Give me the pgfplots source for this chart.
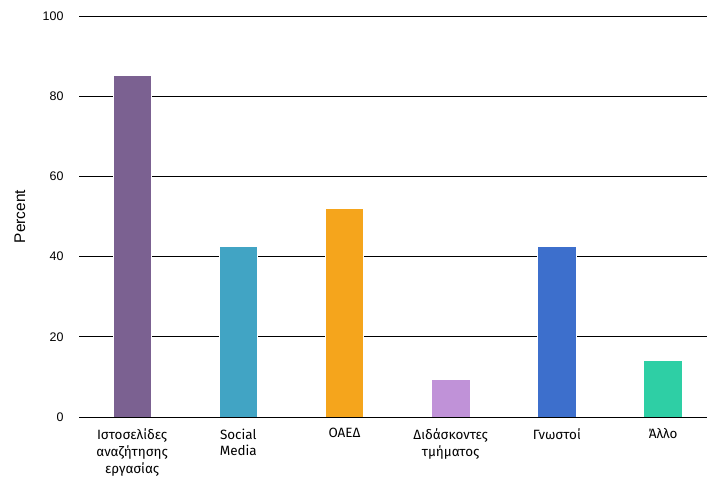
\documentclass[border=0pt]{standalone}
\usepackage{fontspec}
\setmainfont{Liberation Sans}
\newfontfamily\catfont{Fira Sans}
\usepackage{pgfplots}
\pgfplotsset{compat=1.18}
\definecolor{c1}{HTML}{7B6191}
\definecolor{c2}{HTML}{41A4C4}
\definecolor{c3}{HTML}{F5A51C}
\definecolor{c4}{HTML}{C092D8}
\definecolor{c5}{HTML}{3D6FCC}
\definecolor{c6}{HTML}{2ECFA5}
\begin{document}
\begin{tikzpicture}
\useasboundingbox (0,0) rectangle (707bp,477bp);
\begin{axis}[
  at={(79bp,60bp)}, anchor=south west,
  scale only axis, width=628bp, height=401bp,
  xmin=-0.5, xmax=5.414, ymin=0, ymax=100,
  ytick={0,20,...,100},
  xtick={0,1,2,3,4,5},
  xticklabels={{Ιστοσελίδες\\αναζήτησης\\εργασίας},{Social\\Media},{ΟΑΕΔ},{Διδάσκοντες\\τμήματος},{Γνωστοί},{Άλλο}},
  xticklabel style={align=center, font=\catfont\fontsize{13.5}{17}\selectfont, anchor=north, yshift=-8bp},
  yticklabel style={font=\fontsize{12.5}{15}\selectfont, xshift=-12bp},
  /pgf/number format/assume math mode=true,
  major tick length=0pt,
  axis line style={draw=none},
  ymajorgrids, major grid style={black, line width=0.9bp},
  ylabel={Percent},
  ylabel style={at={(axis description cs:-0.094,0.5)}, anchor=center, font=\fontsize{15.5}{18}\selectfont},
  ybar, bar width=38.5bp, bar shift=0pt,
]
\addplot[fill=c1, draw=white, line width=0.6bp] coordinates {(0,85.1)};
\addplot[fill=c2, draw=white, line width=0.6bp] coordinates {(1,42.6)};
\addplot[fill=c3, draw=white, line width=0.6bp] coordinates {(2,52.0)};
\addplot[fill=c4, draw=white, line width=0.6bp] coordinates {(3,9.3)};
\addplot[fill=c5, draw=white, line width=0.6bp] coordinates {(4,42.6)};
\addplot[fill=c6, draw=white, line width=0.6bp] coordinates {(5,14.2)};
\end{axis}
\end{tikzpicture}
\end{document}
